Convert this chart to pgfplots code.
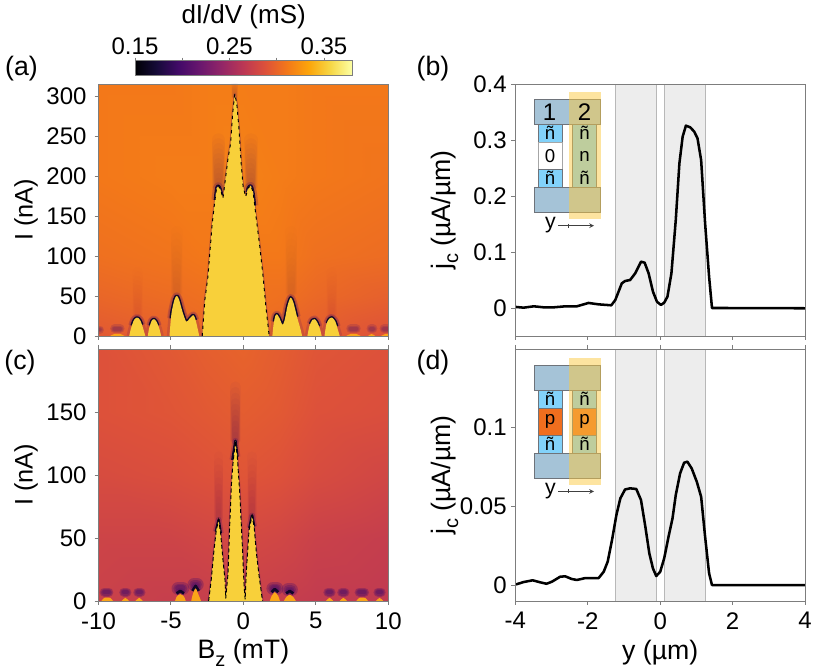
\documentclass[border=0pt]{standalone}
\usepackage{fontspec}
\setmainfont{Liberation Sans}
\usepackage{pgfplots}
\usepackage{pgfplotstable}
\pgfplotsset{compat=1.18}
\definecolor{halo}{RGB}{70,12,105}
\definecolor{dark}{RGB}{15,6,40}
\definecolor{yel}{RGB}{248,208,58}
\definecolor{stub}{RGB}{250,165,25}
\definecolor{spine}{RGB}{125,125,125}
\definecolor{cblue}{RGB}{165,195,215}
\definecolor{chan}{RGB}{130,210,250}
\definecolor{pdop}{RGB}{240,110,30}
\definecolor{over}{RGB}{251,201,65}
\definecolor{edge}{RGB}{110,115,122}
\pgfplotsset{
  colormap={infernomap}{rgb255=(0,0,4) rgb255=(22,11,57) rgb255=(66,10,104) rgb255=(106,23,110) rgb255=(147,38,103) rgb255=(188,55,84) rgb255=(221,81,58) rgb255=(243,120,25) rgb255=(252,165,10) rgb255=(246,215,70) rgb255=(252,255,164)},
  panel/.style={
    scale only axis, width=217.3pt, height=189pt, anchor=south west,
    enlargelimits=false, axis on top, no marks,
    axis line style={spine, line width=0.7pt},
    tick style={spine, line width=0.7pt, major tick length=3pt},
    tick align=outside,
    ytick pos=left,
    point meta min=0.15, point meta max=0.38,
    colormap name=infernomap,
    tick label style={font=\fontsize{18}{18}\selectfont, text=black},
    label style={font=\fontsize{20}{22}\selectfont},
    x tick label style={yshift=-2pt},
    /pgf/number format/assume math mode=true,
    unbounded coords=jump,
  },
  heat/.style={xmin=-10,xmax=10,xtick={-10,-5,0,5,10}, y tick label style={xshift=-2.5pt}},
  prof/.style={xmin=-4,xmax=4,xtick={-4,-2,0,2,4}},
}
\newcommand\sub[1]{\raisebox{-0.28em}{\fontsize{15}{15}\selectfont #1}}
% soft vertical smear: x, y0, y1, width (pt number), opacity per layer
\newcommand\fade[5]{%
  \pgfplotsinvokeforeach{1,0.9,0.8,0.7,0.6,0.5,0.4,0.3,0.2,0.1}{%
    \pgfmathsetmacro\fadeTop{#2+(#3-#2)*##1}%
    \pgfmathsetmacro\fadeW{#4*(0.45+0.55*##1)}%
    \edef\fadeCmd{\noexpand\addplot[draw=halo,line width=\fadeW pt,opacity=#5,line cap=round,forget plot] coordinates {(#1,#2)(#1,\fadeTop)};}%
    \fadeCmd
  }%
}
% soft horizontal blob: x-left, x-right, y, width (pt number), opacity
\newcommand\blob[5]{%
  \pgfplotsinvokeforeach{1,0.72,0.45}{%
    \pgfmathsetmacro\fadeW{#4*##1}%
    \edef\fadeCmd{\noexpand\addplot[draw=halo,line width=\fadeW pt,opacity=#5,line cap=round,forget plot] coordinates {(#1,#3)(#2,#3)};}%
    \fadeCmd
  }%
}

\pgfplotstableread{
x y
-2.84 0
-2.66 45
-2.45 74
-2.15 141
-1.99 166
-1.85 185
-1.71 187.5
-1.57 182.5
-1.41 172
-1.25 195
-1.06 222
-0.88 241
-0.74 278
-0.60 302.5
-0.46 291
-0.32 262
-0.14 212
-0.02 187
0.16 174
0.32 185
0.51 188
0.67 180
0.90 145
1.13 112
1.36 74
1.55 37
1.78 0
}\centralA
\pgfplotstableread{
x y
-7.88 0
-7.75 10
-7.55 20
-7.34 23
-7.13 20
-6.93 10
-6.77 0
nan nan
-6.6 0
-6.5 10
-6.33 19
-6.17 21
-6.0 18
-5.8 9
-5.68 0
nan nan
-5.1 0
-5.05 12
-4.95 30
-4.75 46
-4.6 50
-4.45 46
-4.2 30
-3.95 18
-3.75 21
-3.46 26
-3.3 20
-3.12 6
-3.05 0
nan nan
2.0 0
2.08 14
2.2 25
2.33 27
2.5 22
2.7 14
2.85 20
3.05 38
3.26 48
3.45 42
3.7 24
3.95 8
4.05 0
nan nan
4.42 0
4.55 12
4.75 20
4.92 21
5.1 17
5.3 8
5.4 0
nan nan
5.6 0
5.72 14
5.9 21
6.12 23
6.35 18
6.55 6
6.65 0
}\sideA
\pgfplotstableread{
x y
-7.7 13
-7.55 20
-7.34 23
-7.13 20
-7.0 14
nan nan
-6.45 13
-6.33 19
-6.17 21
-6.0 18
-5.9 13
nan nan
-5.0 22
-4.95 30
-4.75 46
-4.6 50
-4.45 46
-4.2 30
-3.95 18
-3.75 21
-3.46 26
-3.3 20
nan nan
2.12 18
2.2 25
2.33 27
2.5 22
2.7 14
2.85 20
3.05 38
3.26 48
3.45 42
3.7 24
nan nan
4.62 15
4.75 20
4.92 21
5.1 17
5.2 12
nan nan
5.78 16
5.9 21
6.12 23
6.35 18
6.45 12
nan nan
-1.95 170
-1.85 185
-1.71 187.5
-1.57 182.5
-1.48 176
nan nan
0.25 180
0.32 185
0.51 188
0.67 180
0.78 163
}\archA
\pgfplotstableread{
x y
-9.2 0
-8.9 2.5
-8.5 2.5
-8.2 0
nan nan
7.1 0
7.4 2.5
7.8 2.5
8.1 0
nan nan
8.6 0
8.85 2.5
9.1 0
nan nan
9.5 0
9.8 2.5
10 2.5
10 0
}\stubA
\pgfplotstableread{
x y
-2.40 0
-2.22 16.7
-2.03 40.5
-1.87 56.3
-1.71 64.3
-1.57 53.7
-1.41 32.5
-1.27 16.7
-1.22 2
-1.06 22
-0.95 59
-0.81 96
-0.72 109
-0.55 127
-0.42 114.5
-0.25 85.4
-0.07 43
0.05 11.4
0.12 1.3
0.21 24.6
0.39 56.3
0.60 67.7
0.74 59
0.90 37.8
1.09 19.3
1.32 0
}\centralC
\pgfplotstableread{
x y
-4.72 0
-4.6 3.5
-4.36 5.5
-4.1 3.5
-3.98 0
nan nan
-3.6 0
-3.5 5
-3.3 10
-3.1 5
-2.92 0
nan nan
1.82 0
1.95 4
2.17 7
2.4 4
2.52 0
nan nan
2.8 0
2.95 3
3.2 5
3.45 3
3.62 0
nan nan
-9.8 0
-9.6 2.5
-9.2 2.5
-9.0 0
nan nan
-8.4 0
-8.15 2.5
-7.9 0
nan nan
-7.45 0
-7.18 2.5
-6.95 0
nan nan
5.7 0
5.94 2.5
6.2 0
nan nan
6.65 0
6.9 2.5
7.15 0
nan nan
7.8 0
8.0 2.5
8.4 2.5
8.6 0
nan nan
9.15 0
9.4 2.5
9.65 0
}\sideC
\pgfplotstableread{
x y
-1.9 55
-1.71 64.3
-1.57 53.7
nan nan
-0.75 112
-0.55 127
-0.42 114.5
nan nan
0.42 58
0.60 67.7
0.74 59
nan nan
-4.62 6
-4.36 8
-4.1 6
nan nan
-3.52 8
-3.3 12
-3.08 8
nan nan
1.95 7
2.17 9.5
2.4 7
nan nan
2.95 6
3.2 8
3.45 6
}\archC
\pgfplotstableread{
x v
-3.98 0.0018
-3.77 0.0006
-3.49 0.0030
-3.22 0.0012
-2.94 0.0012
-2.62 0.0030
-2.30 0.0030
-1.98 0.0090
-1.70 0.0065
-1.35 0.0048
-1.24 0.0143
-1.06 0.0440
-0.97 0.0482
-0.83 0.0500
-0.69 0.0619
-0.53 0.0827
-0.43 0.0809
-0.32 0.0619
-0.20 0.0292
-0.09 0.0113
0.02 0.0054
0.11 0.0095
0.20 0.0202
0.31 0.0619
0.43 0.1571
0.53 0.2583
0.62 0.3060
0.71 0.3256
0.83 0.3226
0.94 0.3149
1.03 0.3030
1.13 0.2643
1.24 0.1512
1.35 0.0560
1.43 0.0000
1.66 0.0000
4.00 -0.0005
}\curveB
\pgfplotstableread{
x v
-3.98 0.0004
-3.77 0.0019
-3.52 0.0030
-3.31 0.0017
-3.14 0.0008
-2.99 0.0021
-2.76 0.0053
-2.62 0.0055
-2.44 0.0038
-2.30 0.0032
-2.07 0.0044
-1.84 0.0044
-1.70 0.0044
-1.56 0.0084
-1.45 0.0148
-1.33 0.0285
-1.21 0.0443
-1.10 0.0549
-0.97 0.0605
-0.83 0.0612
-0.66 0.0608
-0.53 0.0538
-0.41 0.0369
-0.30 0.0200
-0.20 0.0105
-0.11 0.0057
0.00 0.0084
0.11 0.0169
0.23 0.0306
0.34 0.0422
0.43 0.0570
0.55 0.0707
0.66 0.0774
0.75 0.0781
0.87 0.0738
1.01 0.0654
1.13 0.0559
1.24 0.0306
1.35 0.0074
1.43 0.0000
1.66 0.0000
4.00 -0.0001
}\curveD

\begin{document}
\begin{tikzpicture}
\path[use as bounding box] (0,0) rectangle (610.5pt,502.5pt);

% colour bar
\begin{axis}[panel, at={(101.25pt,446.25pt)}, width=163pt, height=11pt,
  xmin=0.15, xmax=0.38, ymin=0, ymax=1,
  ytick=\empty, xtick pos=top,
  xtick={0.15,0.2,0.25,0.3,0.35}, xticklabels={0.15,,0.25,,0.35},
  tick style={spine, line width=0.6pt, major tick length=2pt},
  x tick label style={yshift=1pt},
  title={dI/dV (mS)}, title style={font=\fontsize{19.5}{20}\selectfont, at={(0.5,1)}, yshift=14pt}]
\addplot[surf, shader=interp, mesh/cols=2, point meta=\thisrow{v}] table[x=x,y=y] {
x y v
0.15 0 0.15
0.38 0 0.38
0.15 1 0.15
0.38 1 0.38
};
\end{axis}

% (a)
\begin{axis}[panel, heat, at={(73.9pt,250.5pt)}, ymin=0, ymax=315,
  xtick pos=bottom, xticklabels={},
  ytick={0,50,100,150,200,250,300},
  ylabel={I (nA)}, ylabel style={font=\fontsize{19}{21}\selectfont, at={(axis description cs:-0.25,0.5)}, anchor=center}]
\addplot[surf, shader=interp, mesh/cols=7, point meta=\thisrow{v}, forget plot] table[x=x,y=y] {
x y v
-10 0 .2926
-5 0 .2972
-2.5 0 .3018
0 0 .3018
2.5 0 .3018
5 0 .2949
10 0 .288
-10 50 .3007
-5 50 .3041
-2.5 50 .3064
0 50 .3087
2.5 50 .3064
5 50 .3018
10 50 .2972
-10 100 .3064
-5 100 .3087
-2.5 100 .311
0 100 .311
2.5 100 .311
5 100 .3064
10 100 .3041
-10 200 .311
-5 200 .3133
-2.5 200 .3133
0 200 .3156
2.5 200 .3133
5 200 .311
10 200 .3087
-10 315 .311
-5 315 .311
-2.5 315 .3133
0 315 .3133
2.5 315 .3133
5 315 .311
10 315 .311
};
% faint smears above the lobes
\fade{-4.6}{55}{130}{9}{0.008}
\fade{3.3}{55}{130}{9}{0.008}
\fade{-7.3}{28}{80}{8}{0.004}
\fade{6.1}{28}{80}{8}{0.004}
\fade{-1.72}{188}{245}{10}{0.028}
\fade{0.52}{188}{245}{10}{0.028}
\fade{-0.6}{300}{315}{5}{0.02}
% weak lobes
\blob{-10.0}{-9.9}{8}{6}{0.16}
\blob{-8.9}{-8.5}{9}{6.5}{0.16}
\blob{7.4}{7.8}{9}{6.5}{0.16}
\blob{8.8}{8.95}{9}{6.5}{0.16}
\blob{9.7}{9.95}{9}{6.5}{0.16}
% halos around the lobes
\addplot[draw=halo, line width=4pt, opacity=0.16, line join=round, smooth, tension=0.5] table[x=x,y=y] {\sideA};
\addplot[draw=halo, line width=5.5pt, opacity=0.22, line join=round, smooth, tension=0.5] table[x=x,y=y] {\archA};
\addplot[draw=dark, line width=2.2pt, line join=round, smooth, tension=0.5] table[x=x,y=y] {\archA};
\addplot[draw=halo, line width=1.6pt, opacity=0.3, line join=round] table[x=x,y=y] {\centralA};
\addplot[draw=none, fill=stub, smooth, tension=0.5] table[x=x,y=y] {\stubA};
\addplot[draw=none, fill=yel, smooth, tension=0.5] table[x=x,y=y] {\sideA};
\addplot[draw=none, fill=yel] table[x=x,y=y] {\centralA};
\addplot[draw=black, line width=0.7pt, dash pattern=on 2.4pt off 3pt] table[x=x,y=y] {\centralA};
\end{axis}

% (c)
\begin{axis}[panel, heat, at={(73.9pt,51.75pt)}, ymin=0, ymax=200,
  xtick pos=both,
  ytick={0,50,100,150},
  xticklabels={-10,-5,0,5,10},
  xlabel={B\sub{z} (mT)},
  xlabel style={at={(axis description cs:0.5,-0.205)}, anchor=center},
  ylabel={I (nA)}, ylabel style={font=\fontsize{19}{21}\selectfont, at={(axis description cs:-0.25,0.5)}, anchor=center}]
\addplot[surf, shader=interp, mesh/cols=7, point meta=\thisrow{v}, forget plot] table[x=x,y=y] {
x y v
-10 0 .2742
-5 0 .2719
-2.5 0 .2719
0 0 .2742
2.5 0 .2719
5 0 .2690
10 0 .2680
-10 50 .2765
-5 50 .2765
-2.5 50 .2788
0 50 .2811
2.5 50 .2788
5 50 .2742
10 50 .2710
-10 100 .2834
-5 100 .2857
-2.5 100 .288
0 100 .2903
2.5 100 .288
5 100 .2834
10 100 .2788
-10 150 .288
-5 150 .2903
-2.5 150 .2926
0 150 .2949
2.5 150 .2926
5 150 .288
10 150 .2857
-10 200 .288
-5 200 .2926
-2.5 200 .29605
0 200 .29835
2.5 200 .2949
5 200 .2903
10 200 .288
};
\fade{-1.71}{66}{115}{7}{0.018}
\fade{0.6}{66}{115}{7}{0.018}
\fade{-0.55}{128}{170}{8}{0.035}
% weak lobes
\blob{-9.6}{-9.3}{7}{7}{0.3}
\blob{-8.25}{-8.05}{7}{7}{0.3}
\blob{-7.28}{-7.08}{7}{7}{0.3}
\blob{5.84}{6.04}{7}{7}{0.3}
\blob{6.8}{7.0}{7}{7}{0.3}
\blob{8.0}{8.35}{7}{7}{0.3}
\blob{9.3}{9.5}{7}{7}{0.3}
% side lobes
\blob{-4.5}{-4.2}{10}{10}{0.3}
\blob{-3.4}{-3.2}{13}{10}{0.3}
\blob{2.05}{2.3}{10}{10}{0.3}
\blob{3.1}{3.3}{9}{10}{0.3}
\addplot[draw=halo, line width=1.6pt, opacity=0.3, line join=round] table[x=x,y=y] {\centralC};
\addplot[draw=halo, line width=4.5pt, opacity=0.25, line join=round] table[x=x,y=y] {\archC};
\addplot[draw=dark, line width=2pt, line join=round] table[x=x,y=y] {\archC};
\addplot[draw=none, fill=stub, smooth, tension=0.5] table[x=x,y=y] {\sideC};
\addplot[draw=none, fill=yel] table[x=x,y=y] {\centralC};
\addplot[draw=black, line width=0.7pt, dash pattern=on 3pt off 2pt] table[x=x,y=y] {\centralC};
\end{axis}

% (b)
\begin{axis}[panel, prof, at={(386.5pt,250.5pt)}, ymin=-0.05, ymax=0.4,
  xtick pos=bottom, xticklabels={},
  ytick={0,0.1,0.2,0.3,0.4}, yticklabels={0,0.1,0.2,0.3,0.4},
  ylabel={j\sub{c} (µA/µm)}, ylabel style={at={(axis description cs:-0.243,0.5)}, anchor=center}]
\addplot[draw=black!28, fill=black!7, line width=0.7pt] coordinates {(-1.24,-0.05)(-1.24,0.4)(-0.09,0.4)(-0.09,-0.05)};
\addplot[draw=black!28, fill=black!7, line width=0.7pt] coordinates {(0.11,-0.05)(0.11,0.4)(1.25,0.4)(1.25,-0.05)};
\addplot[black, line width=1.9pt, line join=round] table[x=x,y=v] {\curveB};
\end{axis}

% (d)
\begin{axis}[panel, prof, at={(386.5pt,51.75pt)}, ymin=-0.0101, ymax=0.1494,
  xtick pos=both,
  xticklabels={-4,-2,0,2,4},
  ytick={0,0.05,0.1}, yticklabels={0,0.05,0.1},
  xlabel={y (µm)},
  xlabel style={at={(axis description cs:0.5,-0.205)}, anchor=center},
  ylabel={j\sub{c} (µA/µm)}, ylabel style={at={(axis description cs:-0.243,0.5)}, anchor=center}]
\addplot[draw=black!28, fill=black!7, line width=0.7pt] coordinates {(-1.24,-0.0101)(-1.24,0.1494)(-0.09,0.1494)(-0.09,-0.0101)};
\addplot[draw=black!28, fill=black!7, line width=0.7pt] coordinates {(0.11,-0.0101)(0.11,0.1494)(1.25,0.1494)(1.25,-0.0101)};
\addplot[black, line width=1.9pt, line join=round] table[x=x,y=v] {\curveD};
\end{axis}

% overlay in pixel coordinates
\begin{scope}[shift={(0,502.5pt)}, x=0.75pt, y=-0.75pt]
\node[font=\fontsize{20}{20}\selectfont] at (21.5,69) {(a)};
\node[font=\fontsize{20}{20}\selectfont] at (433,69) {(b)};
\node[font=\fontsize{20}{20}\selectfont] at (20,363) {(c)};
\node[font=\fontsize{20}{20}\selectfont] at (433,363) {(d)};

% inset (b)
\begin{scope}[draw=edge, line width=0.7pt]
\filldraw[fill=cblue] (534.3,99) rectangle (600.3,124.3);
\filldraw[fill=cblue] (534.3,187) rectangle (600.3,212.3);
\filldraw[fill=chan] (538.7,124.3) rectangle (562,142.3);
\filldraw[fill=white, draw=black!35] (538.7,142.3) rectangle (562,169);
\filldraw[fill=chan] (538.7,169) rectangle (562,187);
\filldraw[fill=chan] (572.7,124.3) rectangle (596.7,187);
\fill[over, opacity=0.5] (569,92.3) rectangle (600.7,218.7);
\end{scope}
\node[font=\fontsize{18}{18}\selectfont] at (549.5,112) {1};
\node[font=\fontsize{18}{18}\selectfont] at (584.5,112) {2};
\node[font=\fontsize{14}{14}\selectfont] at (550,133) {ñ};
\node[font=\fontsize{14}{14}\selectfont] at (550,156) {0};
\node[font=\fontsize{14}{14}\selectfont] at (550,178) {ñ};
\node[font=\fontsize{14}{14}\selectfont] at (584.5,133) {ñ};
\node[font=\fontsize{14}{14}\selectfont] at (584.5,156) {n};
\node[font=\fontsize{14}{14}\selectfont] at (584.5,178) {ñ};
\node[font=\fontsize{16}{16}\selectfont] at (550.5,225) {y};
\draw[-stealth, black!75, line width=0.6pt] (558,225.7) -- (594,225.7);
\draw[black!75, line width=0.5pt] (568,223.7) -- (568,227.7);

% inset (d)
\begin{scope}[draw=edge, line width=0.7pt]
\filldraw[fill=cblue] (534.3,365) rectangle (600.3,390.7);
\filldraw[fill=cblue] (534.3,453.3) rectangle (600.3,478.7);
\filldraw[fill=chan] (538.7,390.7) rectangle (562,408.3);
\filldraw[fill=pdop] (538.7,408.3) rectangle (562,435.7);
\filldraw[fill=chan] (538.7,435.7) rectangle (562,453.3);
\filldraw[fill=chan] (572.7,390.7) rectangle (596.7,408.3);
\filldraw[fill=pdop] (572.7,408.3) rectangle (596.7,435.7);
\filldraw[fill=chan] (572.7,435.7) rectangle (596.7,453.3);
\fill[over, opacity=0.5] (569,358.3) rectangle (600.7,485.3);
\end{scope}
\node[font=\fontsize{14}{14}\selectfont] at (550,399) {ñ};
\node[font=\fontsize{14}{14}\selectfont] at (550,421) {p};
\node[font=\fontsize{14}{14}\selectfont] at (550,444) {ñ};
\node[font=\fontsize{14}{14}\selectfont] at (584.5,399) {ñ};
\node[font=\fontsize{14}{14}\selectfont] at (584.5,421) {p};
\node[font=\fontsize{14}{14}\selectfont] at (584.5,444) {ñ};
\node[font=\fontsize{16}{16}\selectfont] at (550.5,491) {y};
\draw[-stealth, black!75, line width=0.6pt] (558,491.5) -- (594,491.5);
\draw[black!75, line width=0.5pt] (568,489.5) -- (568,493.5);
\end{scope}
\end{tikzpicture}
\end{document}
